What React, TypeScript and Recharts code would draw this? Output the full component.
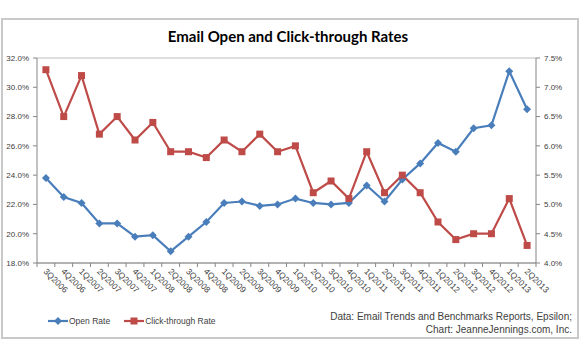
import { CartesianGrid, Line, LineChart, XAxis, YAxis } from "recharts";

const quarters = [
  "3Q2006", "4Q2006", "1Q2007", "2Q2007", "3Q2007", "4Q2007", "1Q2008", "2Q2008",
  "3Q2008", "4Q2008", "1Q2009", "2Q2009", "3Q2009", "4Q2009", "1Q2010", "2Q2010",
  "3Q2010", "4Q2010", "1Q2011", "2Q2011", "3Q2011", "4Q2011", "1Q2012", "2Q2012",
  "3Q2012", "4Q2012", "1Q2013", "2Q2013",
];

const openRate = [
  23.8, 22.5, 22.1, 20.7, 20.7, 19.8, 19.9, 18.8, 19.8, 20.8, 22.1, 22.2, 21.9, 22.0,
  22.4, 22.1, 22.0, 22.1, 23.3, 22.2, 23.7, 24.8, 26.2, 25.6, 27.2, 27.4, 31.1, 28.5,
];

const clickRate = [
  7.3, 6.5, 7.2, 6.2, 6.5, 6.1, 6.4, 5.9, 5.9, 5.8, 6.1, 5.9, 6.2, 5.9,
  6.0, 5.2, 5.4, 5.1, 5.9, 5.2, 5.5, 5.2, 4.7, 4.4, 4.5, 4.5, 5.1, 4.3,
];

const leftTicks = [18, 20, 22, 24, 26, 28, 30, 32];
const rightTicks = [4.0, 4.5, 5.0, 5.5, 6.0, 6.5, 7.0, 7.5];

const BLUE = "#4a7ebb";
const RED = "#be4b48";
const AXIS = "#868686";
const FONT = "'Liberation Sans', Arial, sans-serif";

const data = quarters.map((q, i) => ({ q, open: openRate[i], ctr: clickRate[i] }));

const BAND = 499 / quarters.length;

function QuarterTick(props: any) {
  const { x, y, payload, index } = props;
  return (
    <g>
      <line x1={x - BAND / 2} y1={y} x2={x - BAND / 2} y2={y + 4} stroke={AXIS} />
      {index === quarters.length - 1 ? (
        <line x1={x + BAND / 2} y1={y} x2={x + BAND / 2} y2={y + 4} stroke={AXIS} />
      ) : null}
      <text
        x={x - 3}
        y={y + 9}
        transform={`rotate(45 ${x - 3} ${y + 9})`}
        textAnchor="start"
        fontSize={8.5}
        fontFamily={FONT}
        fill="#404040"
      >
        {payload.value}
      </text>
    </g>
  );
}

function Diamond(props: any) {
  const { cx, cy } = props;
  if (cx == null || cy == null) return null;
  return <path d={`M${cx},${cy - 4}L${cx + 4},${cy}L${cx},${cy + 4}L${cx - 4},${cy}Z`} fill={BLUE} />;
}

function Square(props: any) {
  const { cx, cy } = props;
  if (cx == null || cy == null) return null;
  return <rect x={cx - 3.5} y={cy - 3.5} width={7} height={7} fill={RED} />;
}

export default function App() {
  return (
    <div style={{ position: "absolute", left: 0, top: 0, width: 580, height: 358, background: "#fff" }}>
      <div
        style={{
          position: "absolute",
          left: 1,
          top: 18,
          width: 574,
          height: 317,
          border: "2px solid #c9c9c9",
        }}
      />
      <div
        style={{
          position: "absolute",
          left: 0,
          top: 27,
          width: 576,
          textAlign: "center",
          fontFamily: "Lato, 'Open Sans', sans-serif",
          fontWeight: 700,
          fontSize: 15,
          color: "#000",
        }}
      >
        Email Open and Click-through Rates
      </div>
      <div style={{ position: "absolute", left: 0, top: 0 }}>
        <LineChart width={580} height={358} data={data} margin={{ top: 58, right: 0, bottom: 35, left: 0 }}>
          <CartesianGrid vertical={false} stroke="#bdbdbd" strokeWidth={1} />
          <XAxis
            dataKey="q"
            xAxisId="x"
            scale="band"
            height={60}
            tickSize={0}
            tickMargin={0}
            tickLine={false}
            interval={0}
            stroke={AXIS}
            tick={<QuarterTick />}
          />
          <YAxis
            yAxisId="left"
            width={37}
            domain={[18, 32]}
            ticks={leftTicks}
            tickFormatter={(v: number) => v.toFixed(1) + "%"}
            tickSize={4}
            tickMargin={4}
            stroke={AXIS}
            tick={{ fontSize: 8, fontFamily: FONT, fill: "#404040" }}
            allowDataOverflow
          />
          <YAxis
            yAxisId="right"
            orientation="right"
            width={44}
            domain={[4, 7.5]}
            ticks={rightTicks}
            tickFormatter={(v: number) => v.toFixed(1) + "%"}
            tickSize={4}
            tickMargin={4}
            stroke={AXIS}
            tick={{ fontSize: 8, fontFamily: FONT, fill: "#404040" }}
            allowDataOverflow
          />
          <Line
            xAxisId="x"
            yAxisId="left"
            dataKey="open"
            stroke={BLUE}
            strokeWidth={2.2}
            type="linear"
            dot={<Diamond />}
            activeDot={false}
            isAnimationActive={false}
          />
          <Line
            xAxisId="x"
            yAxisId="right"
            dataKey="ctr"
            stroke={RED}
            strokeWidth={2.2}
            type="linear"
            dot={<Square />}
            activeDot={false}
            isAnimationActive={false}
          />
        </LineChart>
      </div>
      <div
        style={{
          position: "absolute",
          left: 48,
          top: 316,
          display: "flex",
          alignItems: "center",
          fontFamily: FONT,
          fontSize: 8.5,
          color: "#404040",
        }}
      >
        <svg width={20} height={10}>
          <line x1={0} y1={5} x2={20} y2={5} stroke={BLUE} strokeWidth={2.2} />
          <path d="M10,1L14,5L10,9L6,5Z" fill={BLUE} />
        </svg>
        <span style={{ marginLeft: 1, marginRight: 14 }}>Open Rate</span>
        <svg width={20} height={10}>
          <line x1={0} y1={5} x2={20} y2={5} stroke={RED} strokeWidth={2.2} />
          <rect x={6.5} y={1.5} width={7} height={7} fill={RED} />
        </svg>
        <span style={{ marginLeft: 1 }}>Click-through Rate</span>
      </div>
      <div
        style={{
          position: "absolute",
          right: 8,
          top: 311,
          textAlign: "right",
          fontFamily: FONT,
          fontSize: 10,
          lineHeight: "12.5px",
          color: "#404040",
        }}
      >
        <div>Data: Email Trends and Benchmarks Reports, Epsilon;</div>
        <div>Chart: JeanneJennings.com, Inc.</div>
      </div>
    </div>
  );
}
